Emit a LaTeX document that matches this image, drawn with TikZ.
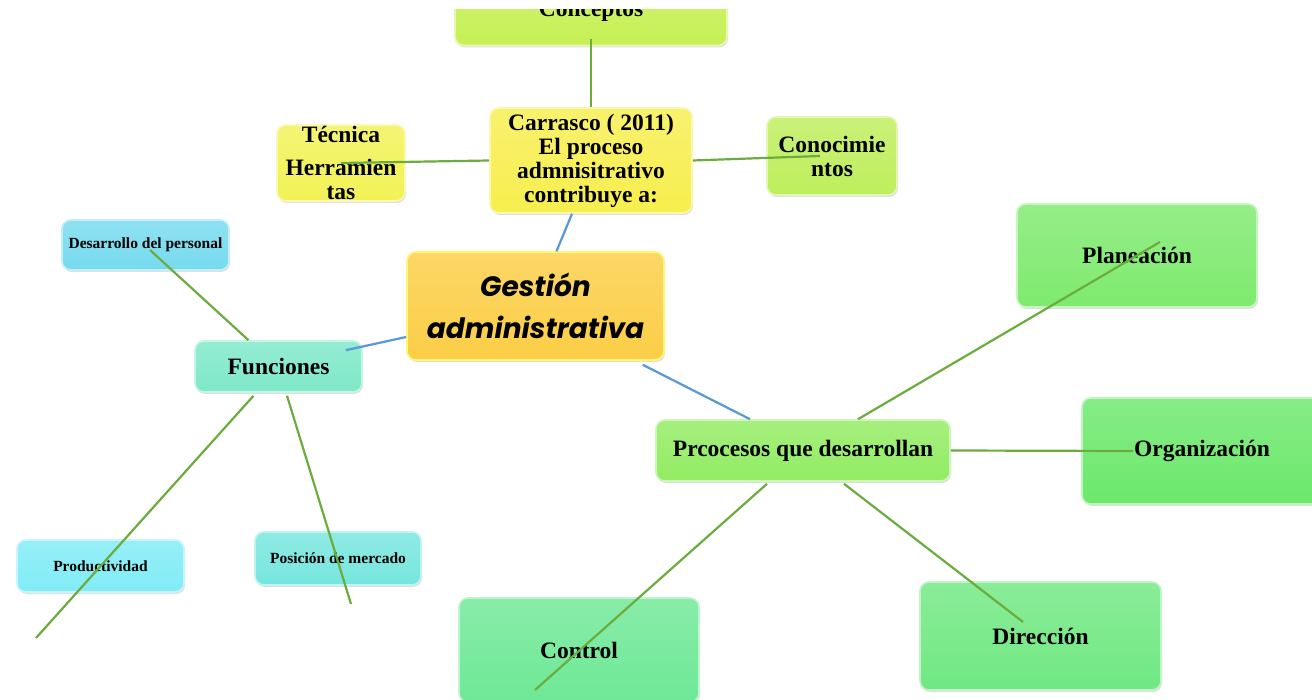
\documentclass[tikz,border=0pt]{standalone}
\usepackage{fontspec}
\setmainfont{Liberation Serif}
\newfontfamily\gestfont{Poppins}
\usetikzlibrary{shadows}
\definecolor{conceptoscol}{RGB}{198,240,84}
\definecolor{carrascocol}{RGB}{247,238,78}
\definecolor{tecnicacol}{RGB}{242,242,86}
\definecolor{conoccol}{RGB}{190,238,92}
\definecolor{gestioncol}{RGB}{252,206,70}
\definecolor{funccol}{RGB}{126,232,200}
\definecolor{desacol}{RGB}{118,218,238}
\definecolor{prodcol}{RGB}{128,236,246}
\definecolor{posicol}{RGB}{118,230,222}
\definecolor{proccol}{RGB}{146,236,98}
\definecolor{plancol}{RGB}{126,234,110}
\definecolor{orgacol}{RGB}{108,232,108}
\definecolor{contcol}{RGB}{110,232,150}
\definecolor{direcol}{RGB}{112,232,130}
\definecolor{ramaverde}{RGB}{108,172,62}
\definecolor{ramaazul}{RGB}{88,152,216}
\begin{document}
\begin{tikzpicture}[x=1pt, y=-1pt,
	caja/.style={rounded corners=9pt, draw=#1!45!white, line width=1.6pt,
		top color=#1!82!white, bottom color=#1, align=center, inner sep=0pt,
		drop shadow={shadow xshift=1pt, shadow yshift=-2pt, opacity=.25},
		font=\bfseries\fontsize{23.5}{24}\selectfont},
	chica/.style={font=\bfseries\fontsize{15.5}{17}\selectfont},
	rama/.style={draw=ramaverde, line width=2.2pt},
	enlace/.style={draw=ramaazul, line width=2.2pt}]
	\useasboundingbox (0, 0) rectangle (1312, 700);
	\begin{scope}
		\clip (0, 10) rectangle (1312, 700);
		\node[caja=conceptoscol, minimum width=272, minimum height=69] (concep) at (591, 11) {Conceptos};
		\node[caja=carrascocol, minimum width=202, minimum height=105] (carr) at (591, 160.5) {Carrasco ( 2011)\\El proceso\\admnisitrativo\\contribuye a:};
		\node[caja=tecnicacol, minimum width=128, minimum height=76] (tec) at (341, 163) {T\'ecnica\\[9pt]Herramien\\tas};
		\node[caja=conoccol, minimum width=130, minimum height=78] (conoc) at (832, 156) {Conocimie\\ntos};
		\node[caja=gestioncol, draw=yellow!55!white, minimum width=257, minimum height=108,
			font=\gestfont\bfseries\itshape\fontsize{28}{42}\selectfont] (gest) at (535.5, 306) {Gesti\'on\\administrativa};
		\node[caja=funccol, minimum width=167, minimum height=51] (func) at (278.5, 366.5) {Funciones};
		\node[caja=desacol, chica, minimum width=167, minimum height=50] (desa) at (145.5, 245) {Desarrollo del personal};
		\node[caja=prodcol, chica, minimum width=167, minimum height=52] (prod) at (100.5, 566) {Productividad};
		\node[caja=posicol, chica, minimum width=166, minimum height=53] (posi) at (338, 558.5) {Posici\'on de mercado};
		\node[caja=proccol, minimum width=294, minimum height=61] (proc) at (803, 450.5) {Prcocesos que desarrollan};
		\node[caja=plancol, minimum width=240, minimum height=103] (plan) at (1137, 255.5) {Planeaci\'on};
		\node[caja=orgacol, minimum width=240, minimum height=106] (orga) at (1202, 451) {Organizaci\'on};
		\node[caja=contcol, minimum width=240, minimum height=104] (cont) at (579, 650) {Control};
		\node[caja=direcol, minimum width=241, minimum height=108] (dire) at (1040.5, 636) {Direcci\'on};

		\coordinate (prodend) at ([xshift=-64.5pt, yshift=-72pt]prod.center);

		\draw[rama] ([yshift=7pt]concep.south) -- (carr.north);
		\draw[rama] (tec.center) -- (carr.west);
		\draw[rama] (carr.east) -- ([xshift=-12pt]conoc.center);
		\draw[enlace] ([xshift=-19pt]carr.south) -- ([xshift=21pt]gest.north);
		\draw[enlace] ([yshift=-31pt]gest.west) -- ([xshift=-17pt, yshift=-10pt]func.north east);
		\draw[enlace] ([xshift=-22pt, yshift=-4pt]gest.south east) -- ([xshift=-53pt]proc.north);
		\draw[rama] ([xshift=-30pt]func.north) -- ([xshift=4.5pt, yshift=-5pt]desa.center);
		\draw[rama] ([xshift=-25pt, yshift=-3pt]func.south) -- (prodend);
		\draw[rama] ([xshift=8.5pt, yshift=-3pt]func.south) -- ([xshift=13pt, yshift=-45.5pt]posi.center);
		\draw[rama] ([xshift=55pt]proc.north) -- ([xshift=23pt, yshift=13.5pt]plan.center);
		\draw[rama] (proc.east) -- ([xshift=-69pt]orga.center);
		\draw[rama] ([xshift=-36pt, yshift=-2pt]proc.south) -- ([xshift=-44pt, yshift=-40pt]cont.center);
		\draw[rama] ([xshift=41pt, yshift=-2pt]proc.south) -- ([xshift=-17.5pt, yshift=14pt]dire.center);
	\end{scope}
\end{tikzpicture}
\end{document}
